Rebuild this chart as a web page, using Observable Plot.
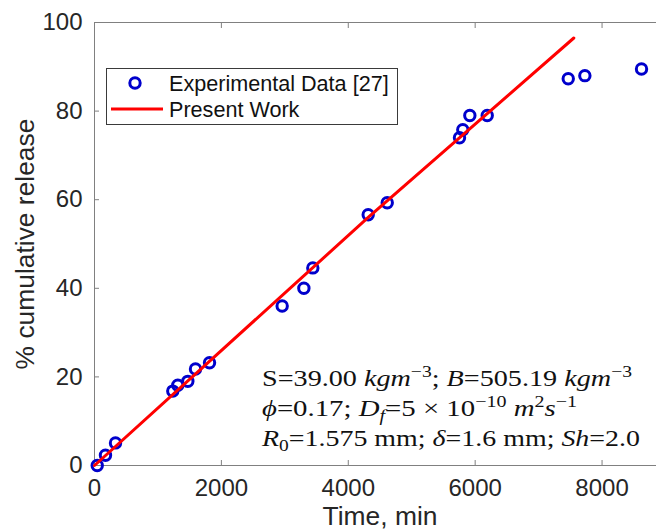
<!DOCTYPE html>
<html>
<head>
<meta charset="utf-8">
<script src="https://cdn.jsdelivr.net/npm/d3@7"></script>
<script src="https://cdn.jsdelivr.net/npm/@observablehq/plot@0.6"></script>
<style>
  html, body { margin: 0; padding: 0; background: #fff; overflow: hidden; }
  svg { display: block; }
</style>
</head>
<body>
<div id="chart"></div>
<script>
// ---------- data ----------
const ticksX = [0, 2000, 4000, 6000, 8000];
const ticksY = [0, 20, 40, 60, 80, 100];

const expTime    = [43, 173, 331, 1234, 1313, 1471, 1592, 1813, 2958, 3300, 3441, 4314, 4614, 5753, 5805, 5916, 6190, 7467, 7729, 8622];
const expRelease = [0, 2.3, 5.1, 16.8, 18.1, 19.0, 21.8, 23.2, 36.0, 40.0, 44.6, 56.6, 59.3, 74.0, 75.8, 79.0, 79.0, 87.3, 88.0, 89.5];

const modelTime    = [0, 4314, 7555];
const modelRelease = [0, 56.0, 96.5];

const seriesNames = ["Experimental Data [27]", "Present Work"];
const xLabel = "Time, min";
const yLabel = "% cumulative release";

// annotation lines: segments (i = italic, sup = superscript, sub = subscript)
const annotationLines = [
  [{t: "S=39.00 "}, {t: "kgm", i: true}, {t: "\u22123", sup: true}, {t: "; "}, {t: "B", i: true}, {t: "=505.19 "}, {t: "kgm", i: true}, {t: "\u22123", sup: true}],
  [{t: "\u03D5", i: true}, {t: "=0.17; "}, {t: "D", i: true}, {t: "f", i: true, sub: true}, {t: "=5 \u00D7 10"}, {t: "\u221210", sup: true}, {t: " "}, {t: "m", i: true}, {t: "2", sup: true}, {t: "s", i: true}, {t: "\u22121", sup: true}],
  [{t: "R", i: true}, {t: "0", sub: true}, {t: "=1.575 mm; "}, {t: "\u03B4", i: true}, {t: "=1.6 mm; "}, {t: "Sh", i: true}, {t: "=2.0"}]
];
const annotationWidths = [370, 315, 378];

// ---------- styles ----------
const sansFont = "'Liberation Sans', Arial, Helvetica, sans-serif";
const serifFont = "'Liberation Serif', 'Times New Roman', 'DejaVu Serif', serif";
const blue = "#0000cc";
const red = "#ff0000";
const axisGray = "#808080";
const textColor = "#262626";

const expData = expTime.map((t, i) => ({time: t, release: expRelease[i]}));
const modelData = modelTime.map((t, i) => ({time: t, release: modelRelease[i]}));

// legend (drawn inside the svg)
function legendMark(index, scales, values, dim) {
  const g = d3.create("svg:g").attr("text-anchor", "start");
  const x0 = dim.marginLeft + 12, y0 = dim.marginTop + 46, w = 291, h = 56;
  g.append("rect").attr("x", x0 + 0.5).attr("y", y0 + 0.5).attr("width", w).attr("height", h)
    .attr("fill", "#fff").attr("stroke", "#3a3a3a").attr("stroke-width", 1);
  const rowY = [y0 + 15, y0 + 41];
  g.append("circle").attr("cx", x0 + 29).attr("cy", rowY[0]).attr("r", 5.2)
    .attr("fill", "none").attr("stroke", blue).attr("stroke-width", 3);
  g.append("line").attr("x1", x0 + 5).attr("x2", x0 + 57).attr("y1", rowY[1]).attr("y2", rowY[1])
    .attr("stroke", red).attr("stroke-width", 3);
  seriesNames.forEach((s, i) => {
    g.append("text").attr("x", x0 + 63).attr("y", rowY[i]).attr("dy", "0.35em")
      .attr("font-family", sansFont).attr("font-size", 21.6).attr("fill", "#111").text(s);
  });
  return g.node();
}

// annotation block with math formatting
function annotationMark(index, scales, values, dim) {
  const g = d3.create("svg:g").attr("text-anchor", "start");
  const x0 = dim.marginLeft + 168;
  const bottom = dim.height - dim.marginBottom;
  const baselines = [bottom - 79, bottom - 49, bottom - 19];
  annotationLines.forEach((segs, li) => {
    const t = g.append("text").attr("x", x0).attr("y", baselines[li])
      .attr("font-family", serifFont).attr("font-size", 23).attr("fill", "#111")
      .attr("textLength", annotationWidths[li]).attr("lengthAdjust", "spacingAndGlyphs");
    let shift = 0;
    segs.forEach(s => {
      const target = s.sup ? -9 : s.sub ? 5 : 0;
      const ts = t.append("tspan").attr("dy", target - shift).text(s.t);
      shift = target;
      if (s.i) ts.attr("font-style", "italic");
      if (s.sup || s.sub) ts.attr("font-size", 16);
    });
  });
  return g.node();
}

const chart = Plot.plot({
  width: 656,
  height: 530,
  marginLeft: 94,
  marginRight: -9,
  marginTop: 22,
  marginBottom: 65,
  style: {fontFamily: sansFont, fontSize: "24px", color: textColor, background: "#fff", overflow: "hidden"},
  x: {domain: [0, 9000]},
  y: {domain: [0, 100]},
  marks: [
    Plot.frame({stroke: axisGray}),
    Plot.axisX({ticks: ticksX, tickSize: 0, tickPadding: 13, tickFormat: d => String(d), fontSize: 24,
      label: null}),
    Plot.axisX({ticks: [], tickSize: 0, label: xLabel, labelAnchor: "center", labelOffset: 59, labelArrow: "none", fontSize: 26.4}),
    Plot.axisX({ticks: ticksX, tickSize: -5, tickFormat: () => "", label: null, stroke: axisGray}),
    Plot.axisX({anchor: "top", ticks: ticksX, tickSize: -5, tickFormat: () => "", label: null, stroke: axisGray}),
    Plot.axisY({ticks: ticksY, tickSize: 0, tickPadding: 12, tickFormat: d => String(d), fontSize: 24,
      label: null}),
    Plot.axisY({ticks: [], tickSize: 0, label: yLabel, labelAnchor: "center", labelOffset: 79, labelArrow: "none", fontSize: 26.4}),
    Plot.axisY({ticks: ticksY, tickSize: -5, tickFormat: () => "", label: null, stroke: axisGray}),
    Plot.dot(expData, {x: "time", y: "release", r: 5.2, stroke: blue, strokeWidth: 3, fill: "none"}),
    Plot.line(modelData, {x: "time", y: "release", stroke: red, strokeWidth: 3}),
    legendMark,
    annotationMark
  ]
});
document.getElementById("chart").appendChild(chart);
</script>
</body>
</html>
